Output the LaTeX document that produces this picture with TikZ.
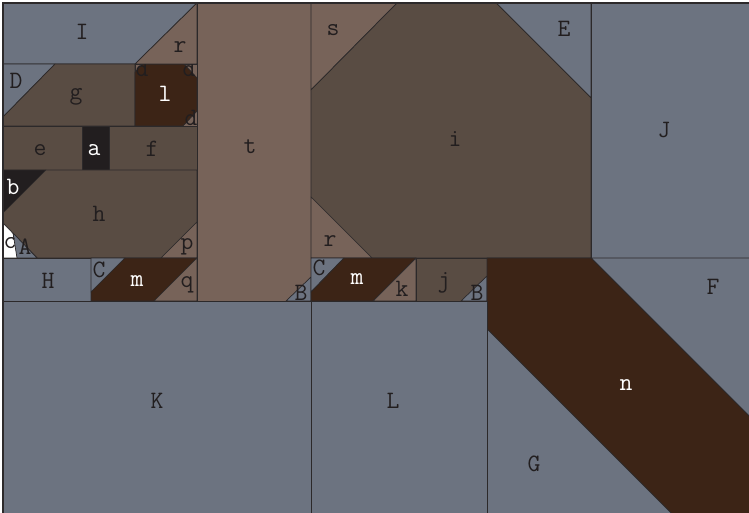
\documentclass[tikz,border=0pt]{standalone}
\usepackage{xcolor}

\definecolor{slate}{HTML}{6C7380}
\definecolor{umber}{HTML}{594C43}
\definecolor{taupe}{HTML}{776359}
\definecolor{cocoa}{HTML}{3C2416}
\definecolor{ink}{HTML}{221E1F}
\definecolor{seam}{HTML}{2C292A}

\begin{document}
\begin{tikzpicture}[x=1pt,y=-1pt,
    patch/.style={draw=seam, line width=.7pt, line join=round},
    lab/.style={font=\fontsize{25}{28}\selectfont\ttfamily, text=ink, inner sep=0pt},
    wlab/.style={lab, text=white}]
  \useasboundingbox (0,0) rectangle (749,513);
  \clip (0,0) rectangle (749,513);

  % left block
  \filldraw [patch, fill=slate]  (3,3) -- (197,3) -- (135,64) -- (3,64) -- cycle;
  \filldraw [patch, fill=slate]  (3,64) -- (55,64) -- (3,117) -- cycle;
  \filldraw [patch, fill=umber]  (55,64) -- (135,64) -- (135,126) -- (3,126) -- (3,117) -- cycle;
  \filldraw [patch, fill=taupe]  (135,64) rectangle (197,126);
  \filldraw [patch, fill=cocoa]  (143,64) -- (184,64) -- (197,78) -- (197,111) -- (183,126) -- (135,126) -- (135,72) -- cycle;
  \filldraw [patch, fill=umber]  (3,126) rectangle (82,170);
  \filldraw [patch, fill=ink]    (82,126) rectangle (109,170);
  \filldraw [patch, fill=umber]  (109,126) rectangle (197,170);
  \filldraw [patch, fill=ink]    (3,170) -- (46,170) -- (3,213) -- cycle;
  \filldraw [patch, fill=umber]  (46,170) -- (197,170) -- (197,222) -- (161,258) -- (37,258) -- (3,223) -- (3,213) -- cycle;
  \filldraw [patch, fill=white]  (3,223) -- (37,258) -- (3,258) -- cycle;
  \filldraw [patch, fill=slate]  (13,233) -- (37,258) -- (17,258) -- cycle;
  \filldraw [patch, fill=taupe]  (161,258) -- (197,222) -- (197,258) -- cycle;
  \filldraw [patch, fill=slate]  (3,258) rectangle (91,301);
  \filldraw [patch, fill=slate]  (91,258) -- (125,258) -- (91,292) -- cycle;
  \filldraw [patch, fill=cocoa]  (125,258) -- (197,258) -- (154,301) -- (91,301) -- (91,292) -- cycle;
  \filldraw [patch, fill=taupe]  (197,258) -- (197,301) -- (154,301) -- cycle;

  % corner marks of l, the top one half hidden under r
  \node [lab] (d1) at (142,69) {d};
  \node [lab] (d3) at (191,118) {d};
  \begin{scope}
    \clip (135,64) rectangle (197,126);
    \node [lab] (d2) at (189,69) {d};
  \end{scope}
  \filldraw [patch, fill=taupe]  (135,64) -- (197,3) -- (197,64) -- cycle;

  % middle strip
  \filldraw [patch, fill=taupe]  (197,3) rectangle (311,301);
  \filldraw [patch, fill=slate]  (286,301) -- (311,277) -- (311,301) -- cycle;

  % right block
  \filldraw [patch, fill=taupe]  (311,3) -- (397,3) -- (311,90) -- cycle;
  \filldraw [patch, fill=slate]  (496,3) -- (591,3) -- (591,98) -- cycle;
  \filldraw [patch, fill=umber]  (311,90) -- (397,3) -- (496,3) -- (591,98) -- (591,258) -- (372,258) -- (311,197) -- cycle;
  \filldraw [patch, fill=taupe]  (311,197) -- (372,258) -- (311,258) -- cycle;
  \filldraw [patch, fill=slate]  (591,3) rectangle (752,258);
  \filldraw [patch, fill=slate]  (311,258) -- (344,258) -- (311,292) -- cycle;
  \filldraw [patch, fill=cocoa]  (344,258) -- (416,258) -- (373,301) -- (311,301) -- (311,292) -- cycle;
  \filldraw [patch, fill=taupe]  (416,258) -- (416,301) -- (373,301) -- cycle;
  \filldraw [patch, fill=umber]  (416,258) rectangle (487,301);
  \filldraw [patch, fill=slate]  (461,301) -- (487,276) -- (487,301) -- cycle;

  % bottom row
  \filldraw [patch, fill=slate]  (591,258) -- (752,258) -- (752,419) -- cycle;
  \filldraw [patch, fill=cocoa]  (487,258) -- (591,258) -- (752,419) -- (752,516) -- (674,516) -- (487,329) -- cycle;
  \filldraw [patch, fill=slate]  (487,329) -- (674,516) -- (487,516) -- cycle;
  \filldraw [patch, fill=slate]  (3,301) rectangle (311,516);
  \filldraw [patch, fill=slate]  (311,301) rectangle (487,516);

  \draw [seam, line width=2pt] (3,516) -- (3,3) -- (752,3);

  % labels
  \node [lab]  (I)  at (82,32)   {I};
  \node [lab]  (r1) at (180,47)  {r};
  \node [lab]  (D)  at (16,81)   {D};
  \node [lab]  (g)  at (76,97)   {g};
  \node [wlab] (l)  at (165,94)  {l};
  \node [lab]  (e)  at (40,150)  {e};
  \node [wlab] (a)  at (94,150)  {a};
  \node [lab]  (f)  at (152,149) {f};
  \node [wlab] (b)  at (13,187)  {b};
  \node [lab]  (h)  at (99,214)  {h};
  \node [lab]  (c)  at (10,243)  {c};
  \node [lab]  (A)  at (25,247)  {A};
  \node [lab]  (p)  at (187,247) {p};
  \node [lab]  (H)  at (48,281)  {H};
  \node [lab]  (C1) at (99,270)  {C};
  \node [wlab] (m1) at (137,281) {m};
  \node [lab]  (q)  at (187,285) {q};
  \node [lab]  (B1) at (301,293) {B};
  \node [lab]  (t)  at (250,147) {t};
  \node [lab]  (s)  at (333,30)  {s};
  \node [lab]  (E)  at (564,29)  {E};
  \node [lab]  (i)  at (455,139) {i};
  \node [lab]  (J)  at (664,130) {J};
  \node [lab]  (r2) at (330,241) {r};
  \node [lab]  (C2) at (319,268) {C};
  \node [wlab] (m2) at (357,279) {m};
  \node [lab]  (k)  at (402,289) {k};
  \node [lab]  (j)  at (444,283) {j};
  \node [lab]  (B2) at (477,293) {B};
  \node [lab]  (F)  at (713,287) {F};
  \node [wlab] (n)  at (626,385) {n};
  \node [lab]  (G)  at (534,464) {G};
  \node [lab]  (K)  at (157,401) {K};
  \node [lab]  (L)  at (393,401) {L};
\end{tikzpicture}
\end{document}
